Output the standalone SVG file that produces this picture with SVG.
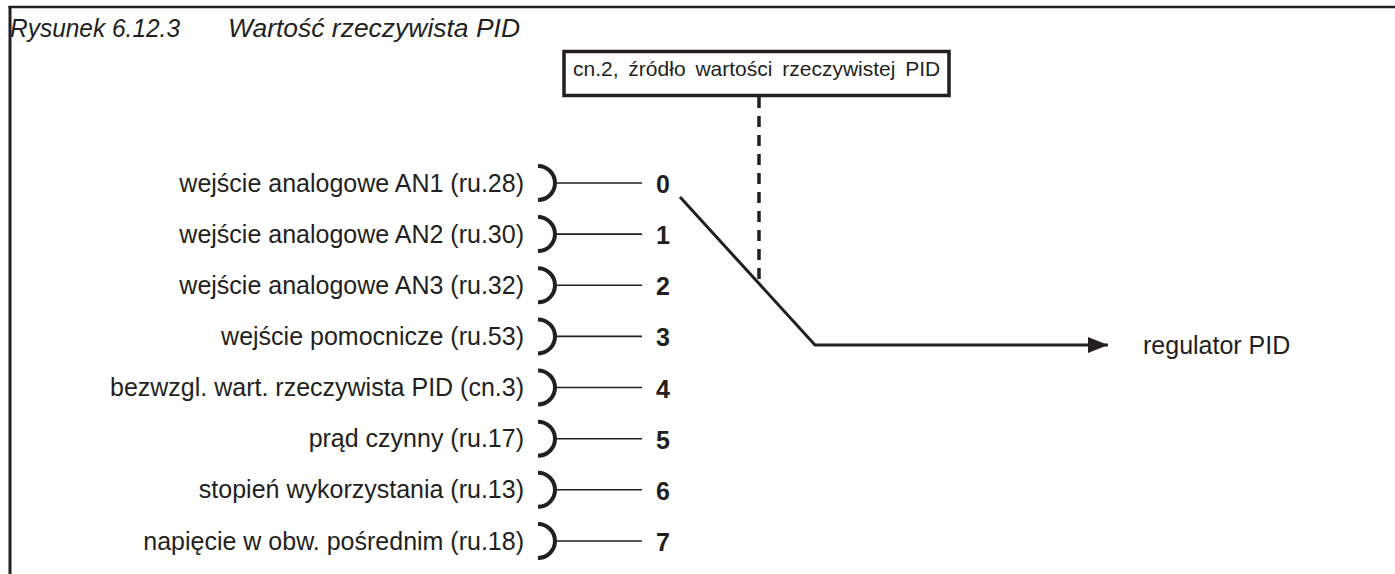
<svg xmlns="http://www.w3.org/2000/svg" width="1395" height="574" viewBox="0 0 1395 574">
<defs>
<style>
.lbl{font-family:"Liberation Sans",Arial,sans-serif;font-size:25px;fill:#231f20;}
.box{font-family:"Liberation Sans",Arial,sans-serif;font-size:21px;fill:#231f20;word-spacing:4px;}
.num{font-family:"Liberation Sans",Arial,sans-serif;font-size:25px;font-weight:bold;fill:#231f20;}
.ttl{font-family:"Liberation Sans",Arial,sans-serif;font-size:25px;font-style:italic;fill:#231f20;}
.brk{fill:none;stroke:#231f20;stroke-width:4;}
.wire{fill:none;stroke:#231f20;stroke-width:1.6;}
.thick{fill:none;stroke:#231f20;stroke-width:3;}
</style>
<marker id="arr" markerUnits="userSpaceOnUse" markerWidth="22" markerHeight="18" refX="20" refY="8" orient="auto">
<path d="M0,0 L20,8 L0,16 Z" fill="#231f20"/>
</marker>
</defs>
<rect width="1395" height="574" fill="#ffffff"/>
<g id="frame">
<line x1="8.5" y1="7" x2="1395" y2="7" stroke="#231f20" stroke-width="2.5"/>
<line x1="10" y1="6" x2="10" y2="574" stroke="#231f20" stroke-width="3"/>
</g>
<g id="title">
<text class="ttl" x="10" y="37" textLength="170" lengthAdjust="spacingAndGlyphs">Rysunek 6.12.3</text>
<text class="ttl" x="228" y="37" textLength="292" lengthAdjust="spacingAndGlyphs">Wartość rzeczywista PID</text>
</g>
<g id="selector-box">
<rect x="564" y="51.5" width="385" height="44" fill="#ffffff" stroke="#231f20" stroke-width="3.5"/>
<text class="box" x="573" y="76">cn.2, źródło wartości rzeczywistej PID</text>
</g>
<g id="in0"><text class="lbl" x="524" y="191.5" text-anchor="end">wejście analogowe AN1 (ru.28)</text><path class="brk" d="M538,166 A17,17 0 0 1 538,200"/><text class="num" x="656" y="193">0</text></g>
<g id="in1"><text class="lbl" x="524" y="242.6" text-anchor="end">wejście analogowe AN2 (ru.30)</text><path class="brk" d="M538,217.1 A17,17 0 0 1 538,251.1"/><text class="num" x="656" y="244.1">1</text></g>
<g id="in2"><text class="lbl" x="524" y="293.8" text-anchor="end">wejście analogowe AN3 (ru.32)</text><path class="brk" d="M538,268.3 A17,17 0 0 1 538,302.3"/><text class="num" x="656" y="295.3">2</text></g>
<g id="in3"><text class="lbl" x="524" y="344.9" text-anchor="end">wejście pomocnicze (ru.53)</text><path class="brk" d="M538,319.4 A17,17 0 0 1 538,353.4"/><text class="num" x="656" y="346.4">3</text></g>
<g id="in4"><text class="lbl" x="524" y="396" text-anchor="end">bezwzgl. wart. rzeczywista PID (cn.3)</text><path class="brk" d="M538,370.5 A17,17 0 0 1 538,404.5"/><text class="num" x="656" y="397.5">4</text></g>
<g id="in5"><text class="lbl" x="524" y="447.2" text-anchor="end">prąd czynny (ru.17)</text><path class="brk" d="M538,421.7 A17,17 0 0 1 538,455.7"/><text class="num" x="656" y="448.7">5</text></g>
<g id="in6"><text class="lbl" x="524" y="498.3" text-anchor="end">stopień wykorzystania (ru.13)</text><path class="brk" d="M538,472.8 A17,17 0 0 1 538,506.8"/><text class="num" x="656" y="499.8">6</text></g>
<g id="in7"><text class="lbl" x="524" y="549.5" text-anchor="end">napięcie w obw. pośrednim (ru.18)</text><path class="brk" d="M538,524 A17,17 0 0 1 538,558"/><text class="num" x="656" y="551">7</text></g>
<g id="output"><text class="lbl" x="1143" y="354">regulator PID</text></g>
<g id="connectors">
<line class="wire" x1="555" y1="183" x2="642" y2="183"/>
<line class="wire" x1="555" y1="234.1" x2="642" y2="234.1"/>
<line class="wire" x1="555" y1="285.3" x2="642" y2="285.3"/>
<line class="wire" x1="555" y1="336.4" x2="642" y2="336.4"/>
<line class="wire" x1="555" y1="387.5" x2="642" y2="387.5"/>
<line class="wire" x1="555" y1="438.7" x2="642" y2="438.7"/>
<line class="wire" x1="555" y1="489.8" x2="642" y2="489.8"/>
<line class="wire" x1="555" y1="541" x2="642" y2="541"/>
<line x1="759" y1="97" x2="759" y2="282" stroke="#231f20" stroke-width="3.5" stroke-dasharray="11 8"/>
<polyline class="thick" points="680,197 815,345 1108,345" marker-end="url(#arr)"/>
</g>
</svg>
